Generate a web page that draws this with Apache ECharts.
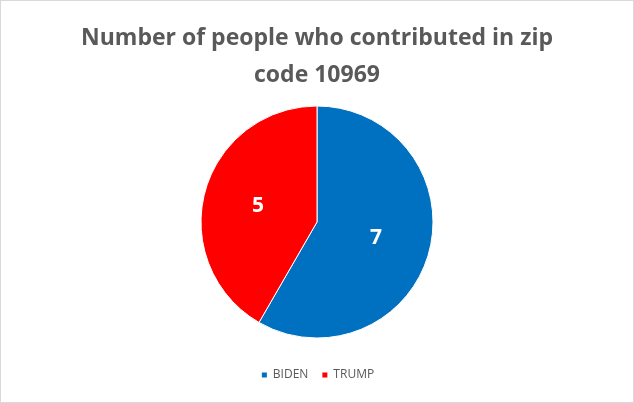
<!DOCTYPE html>
<html>
<head>
<meta charset="utf-8">
<script src="https://cdn.jsdelivr.net/npm/echarts@6/dist/echarts.min.js"></script>
<style>
  html, body { margin: 0; padding: 0; background: #fff; }
  #chart { width: 632px; height: 401px; border: 1px solid #d9d9d9; }
</style>
</head>
<body>
<div id="chart"></div>
<script>
// data
var names = ['BIDEN', 'TRUMP'];
var counts = [7, 5];
var colors = ['#0070C0', '#FF0000'];

var chart = echarts.init(document.getElementById('chart'));

var pieData = [];
for (var i = 0; i < names.length; i++) {
  pieData.push({ name: names[i], value: counts[i], itemStyle: { color: colors[i] } });
}

var option = {
  backgroundColor: '#ffffff',
  title: {
    text: 'Number of people who contributed in zip\ncode 10969',
    left: 'center',
    top: 14,
    textStyle: {
      fontFamily: 'Open Sans',
      fontSize: 23,
      fontWeight: 'bold',
      color: '#595959',
      lineHeight: 37
    }
  },
  legend: {
    bottom: 16,
    left: 'center',
    itemWidth: 7,
    itemHeight: 7,
    itemGap: 12,
    icon: 'rect',
    textStyle: { fontFamily: 'Open Sans', fontSize: 12, color: '#595959' },
    data: names
  },
  series: [
    {
      type: 'pie',
      center: [316, 221],
      radius: [0, 116],
      startAngle: 90,
      clockwise: true,
      label: {
        position: 'inner',
        formatter: '{c}',
        color: '#ffffff',
        fontFamily: 'Open Sans',
        fontSize: 21,
        fontWeight: 'bold'
      },
      labelLine: { show: false },
      itemStyle: { borderColor: '#ffffff', borderWidth: 1 },
      emphasis: { disabled: true },
      data: pieData
    }
  ]
};

chart.setOption(option);
</script>
</body>
</html>
